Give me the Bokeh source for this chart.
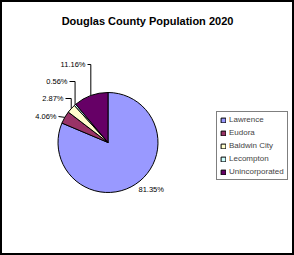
import math
from bokeh.plotting import figure
from bokeh.models import Range1d, Legend, LegendItem, Label
from bokeh.core.properties import value
from bokeh.embed import file_html
from bokeh.resources import INLINE

# ---- data ----
title_text = "Douglas County Population 2020"
categories = ["Lawrence", "Eudora", "Baldwin City", "Lecompton", "Unincorporated"]
shares = [81.35, 4.06, 2.87, 0.56, 11.16]
pct_labels = ["81.35%", "4.06%", "2.87%", "0.56%", "11.16%"]
colors = ["#9999FF", "#993366", "#FFFFCC", "#CCFFFF", "#660066"]

# ---- layout (screen px, y downward) ----
W, H = 294, 255
CX, CY, R = 107.5, 142.0, 50.0
lab_x = [138, 56, 63, 67, 85]
lab_y = [189, 116, 98, 81, 64]
lab_align = ["left", "right", "right", "right", "right"]
leader = [False, True, True, True, True]
FONT = "Liberation Sans"

p = figure(width=W, height=H, x_range=Range1d(0, W), y_range=Range1d(0, H),
           output_backend="svg", toolbar_location=None, min_border=0)
p.axis.visible = False
p.xgrid.visible = False
p.ygrid.visible = False
p.outline_line_color = "black"
p.outline_line_width = 3
p.background_fill_color = "white"
p.border_fill_color = "white"

total = sum(shares)
cum = 0.0
renderers = []
for i, s in enumerate(shares):
    t1 = cum / total * 2 * math.pi
    cum += s
    t2 = cum / total * 2 * math.pi
    # clockwise from 12 o'clock -> standard angles
    r = p.wedge(x=CX, y=H - CY, radius=R,
                start_angle=math.pi / 2 - t2, end_angle=math.pi / 2 - t1,
                fill_color=colors[i], line_color="black", line_width=1)
    renderers.append(r)
    tm = (t1 + t2) / 2
    mx = CX + R * math.sin(tm)
    my = CY - R * math.cos(tm)
    if leader[i]:
        xs = [mx, mx, lab_x[i] + 2]
        ys = [H - my, H - lab_y[i], H - lab_y[i]]
        if abs(my - lab_y[i]) < 3:
            xs = [mx, lab_x[i] + 2]
            ys = [H - my, H - lab_y[i]]
        p.line(xs, ys, line_color="black", line_width=1)

for i in range(len(shares)):
    p.text(x=[lab_x[i]], y=[H - lab_y[i]], text=[pct_labels[i]],
           text_align=lab_align[i], text_baseline="middle",
           text_font=value(FONT), text_font_size="7.5px", text_color="black")

p.add_layout(Label(x=W / 2, y=H - 20, text=title_text, text_align="center",
                   text_baseline="middle", text_font=FONT, text_font_size="11px",
                   text_font_style="bold", text_color="black"))

legend = Legend(items=[LegendItem(label=c, renderers=[r]) for c, r in zip(categories, renderers)],
                location=(216, 75), glyph_width=6, glyph_height=6, label_height=9,
                spacing=4, padding=3, margin=0, label_standoff=3,
                label_text_font=FONT, label_text_font_size="8px",
                border_line_color="black", border_line_width=1,
                background_fill_color="white", background_fill_alpha=1)
p.add_layout(legend)

open("out.html", "w").write(file_html(p, INLINE))
